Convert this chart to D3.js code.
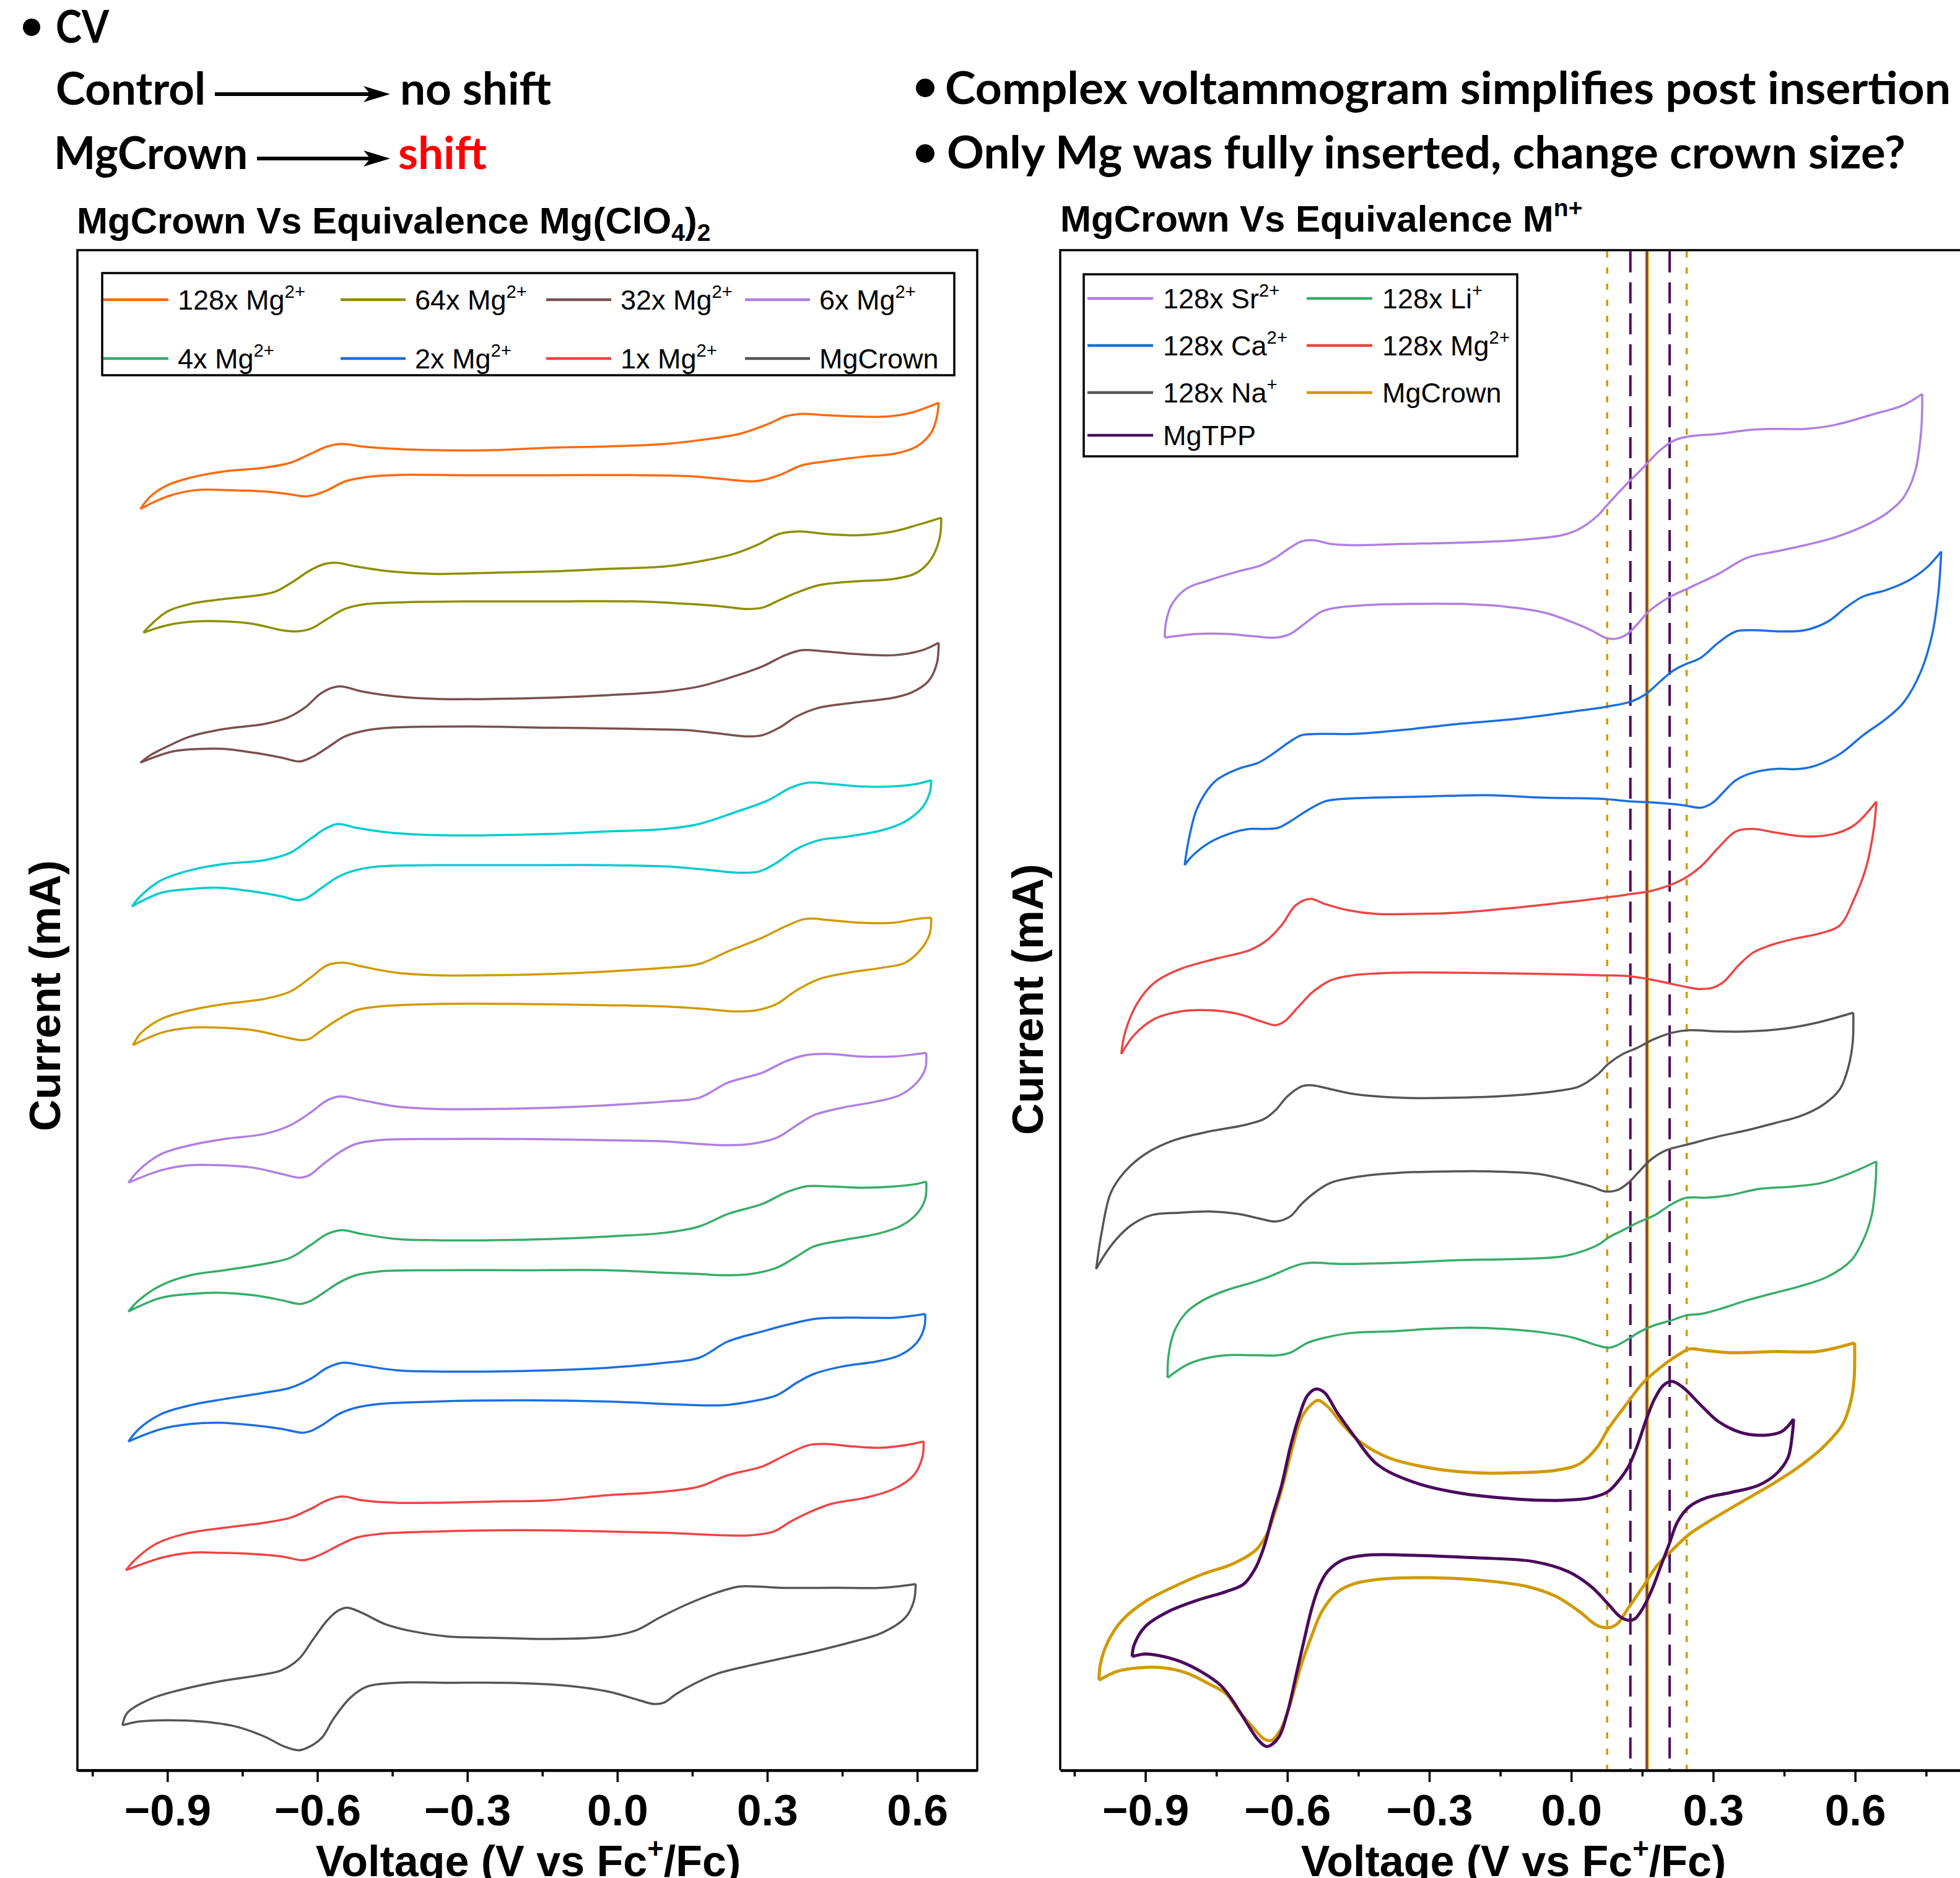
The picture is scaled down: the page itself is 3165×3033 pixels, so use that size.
<!DOCTYPE html>
<html><head><meta charset="utf-8">
<script src="https://cdn.jsdelivr.net/npm/d3@7"></script>
<style>body{margin:0;background:#fff}svg{display:block}</style>
</head><body>
<svg id="chart" width="3165" height="3033"></svg>
<script>
// ---------------- DATA (Voltage in V vs Fc+/Fc, current in arbitrary offset mA) ----------------
// Left panel: MgCrown vs equivalents of Mg(ClO4)2 (forward = upper branch, reverse = lower branch)
const L128_fwd = [[-0.954,10.09],[-0.934,10.19],[-0.900,10.28],[-0.854,10.34],[-0.786,10.39],[-0.706,10.42],[-0.654,10.46],[-0.614,10.53],[-0.580,10.59],[-0.551,10.61],[-0.511,10.59],[-0.442,10.57],[-0.362,10.56],[-0.248,10.56],[-0.133,10.58],[-0.019,10.59],[0.096,10.61],[0.164,10.64],[0.244,10.69],[0.302,10.77],[0.336,10.83],[0.370,10.85],[0.416,10.84],[0.473,10.83],[0.542,10.83],[0.588,10.86],[0.643,10.94]];
const L128_rev = [[0.643,10.94],[0.639,10.82],[0.628,10.70],[0.599,10.59],[0.553,10.53],[0.496,10.51],[0.416,10.47],[0.370,10.44],[0.324,10.36],[0.290,10.32],[0.267,10.31],[0.233,10.32],[0.153,10.35],[0.038,10.36],[-0.133,10.36],[-0.305,10.36],[-0.454,10.36],[-0.511,10.34],[-0.545,10.31],[-0.580,10.24],[-0.608,10.20],[-0.625,10.19],[-0.660,10.21],[-0.706,10.23],[-0.774,10.24],[-0.843,10.24],[-0.900,10.19],[-0.954,10.09]];
const L64_fwd = [[-0.948,9.10],[-0.934,9.16],[-0.900,9.27],[-0.854,9.33],[-0.786,9.37],[-0.717,9.40],[-0.683,9.43],[-0.648,9.51],[-0.614,9.60],[-0.585,9.65],[-0.563,9.66],[-0.523,9.63],[-0.454,9.59],[-0.362,9.57],[-0.248,9.58],[-0.133,9.59],[-0.019,9.61],[0.096,9.63],[0.164,9.67],[0.233,9.73],[0.279,9.80],[0.324,9.89],[0.364,9.91],[0.416,9.89],[0.485,9.88],[0.553,9.91],[0.599,9.96],[0.648,10.02]];
const L64_rev = [[0.648,10.02],[0.645,9.86],[0.628,9.69],[0.599,9.58],[0.553,9.53],[0.473,9.51],[0.404,9.48],[0.359,9.42],[0.324,9.36],[0.290,9.30],[0.256,9.29],[0.210,9.31],[0.141,9.33],[0.038,9.35],[-0.133,9.35],[-0.305,9.35],[-0.454,9.34],[-0.500,9.33],[-0.545,9.29],[-0.580,9.21],[-0.614,9.13],[-0.643,9.11],[-0.671,9.12],[-0.728,9.17],[-0.786,9.19],[-0.843,9.19],[-0.900,9.16],[-0.948,9.10]];
const L32_fwd = [[-0.954,8.06],[-0.934,8.12],[-0.900,8.19],[-0.854,8.27],[-0.786,8.33],[-0.706,8.37],[-0.660,8.42],[-0.625,8.50],[-0.591,8.62],[-0.557,8.67],[-0.511,8.63],[-0.442,8.59],[-0.362,8.57],[-0.248,8.57],[-0.133,8.58],[-0.019,8.60],[0.096,8.63],[0.164,8.67],[0.233,8.75],[0.290,8.83],[0.336,8.92],[0.370,8.96],[0.416,8.95],[0.473,8.93],[0.553,8.92],[0.610,8.96],[0.643,9.02]];
const L32_rev = [[0.643,9.02],[0.639,8.85],[0.622,8.71],[0.588,8.62],[0.553,8.58],[0.473,8.54],[0.404,8.50],[0.359,8.43],[0.324,8.34],[0.290,8.28],[0.261,8.27],[0.210,8.29],[0.141,8.32],[0.038,8.33],[-0.133,8.34],[-0.305,8.35],[-0.454,8.34],[-0.500,8.32],[-0.545,8.27],[-0.580,8.18],[-0.608,8.11],[-0.635,8.07],[-0.671,8.10],[-0.728,8.14],[-0.786,8.17],[-0.831,8.17],[-0.889,8.15],[-0.954,8.06]];
const L16_fwd = [[-0.971,6.91],[-0.952,7.00],[-0.912,7.12],[-0.854,7.20],[-0.786,7.25],[-0.706,7.28],[-0.654,7.34],[-0.614,7.45],[-0.585,7.53],[-0.559,7.57],[-0.523,7.54],[-0.454,7.50],[-0.362,7.48],[-0.248,7.48],[-0.133,7.49],[-0.019,7.51],[0.096,7.53],[0.164,7.57],[0.233,7.66],[0.302,7.76],[0.347,7.86],[0.382,7.90],[0.427,7.89],[0.485,7.87],[0.553,7.87],[0.599,7.89],[0.628,7.92]];
const L16_rev = [[0.628,7.92],[0.625,7.82],[0.610,7.70],[0.576,7.59],[0.530,7.52],[0.462,7.47],[0.404,7.44],[0.359,7.37],[0.319,7.26],[0.284,7.19],[0.244,7.18],[0.187,7.20],[0.096,7.23],[-0.019,7.24],[-0.191,7.24],[-0.362,7.24],[-0.477,7.23],[-0.523,7.20],[-0.557,7.15],[-0.591,7.06],[-0.620,6.98],[-0.639,6.96],[-0.671,6.99],[-0.728,7.03],[-0.797,7.06],[-0.854,7.05],[-0.912,7.02],[-0.971,6.91]];
const L8_fwd = [[-0.969,5.80],[-0.952,5.90],[-0.912,6.01],[-0.854,6.08],[-0.786,6.13],[-0.706,6.17],[-0.654,6.23],[-0.614,6.34],[-0.580,6.44],[-0.548,6.46],[-0.511,6.43],[-0.442,6.38],[-0.362,6.36],[-0.248,6.36],[-0.133,6.37],[-0.019,6.39],[0.096,6.42],[0.164,6.45],[0.221,6.55],[0.290,6.66],[0.336,6.75],[0.376,6.81],[0.427,6.80],[0.485,6.78],[0.553,6.78],[0.599,6.81],[0.628,6.82]];
const L8_rev = [[0.628,6.82],[0.625,6.69],[0.610,6.58],[0.576,6.46],[0.530,6.42],[0.462,6.38],[0.404,6.33],[0.359,6.24],[0.319,6.13],[0.279,6.08],[0.233,6.07],[0.176,6.09],[0.096,6.11],[-0.019,6.12],[-0.191,6.13],[-0.362,6.13],[-0.477,6.11],[-0.523,6.08],[-0.557,6.01],[-0.591,5.92],[-0.616,5.85],[-0.631,5.84],[-0.671,5.87],[-0.728,5.92],[-0.797,5.94],[-0.854,5.94],[-0.912,5.90],[-0.969,5.80]];
const L6_fwd = [[-0.978,4.70],[-0.957,4.80],[-0.912,4.93],[-0.854,5.00],[-0.786,5.05],[-0.706,5.09],[-0.654,5.16],[-0.614,5.26],[-0.580,5.36],[-0.554,5.39],[-0.511,5.36],[-0.442,5.31],[-0.362,5.29],[-0.248,5.29],[-0.133,5.30],[-0.019,5.32],[0.096,5.35],[0.164,5.38],[0.221,5.50],[0.290,5.58],[0.336,5.67],[0.376,5.72],[0.427,5.73],[0.485,5.71],[0.553,5.71],[0.599,5.73],[0.618,5.74]];
const L6_rev = [[0.618,5.74],[0.616,5.61],[0.599,5.50],[0.565,5.40],[0.519,5.35],[0.450,5.30],[0.393,5.24],[0.359,5.16],[0.319,5.06],[0.267,5.01],[0.221,5.00],[0.164,5.01],[0.096,5.03],[-0.019,5.04],[-0.191,5.05],[-0.362,5.05],[-0.477,5.04],[-0.523,5.01],[-0.557,4.94],[-0.591,4.84],[-0.616,4.76],[-0.635,4.74],[-0.671,4.77],[-0.728,4.82],[-0.797,4.84],[-0.854,4.84],[-0.912,4.80],[-0.978,4.70]];
const L4_fwd = [[-0.978,3.67],[-0.957,3.76],[-0.912,3.88],[-0.854,3.96],[-0.786,4.00],[-0.706,4.05],[-0.654,4.10],[-0.614,4.20],[-0.580,4.29],[-0.551,4.32],[-0.511,4.29],[-0.442,4.25],[-0.362,4.24],[-0.248,4.24],[-0.133,4.25],[-0.019,4.27],[0.096,4.30],[0.164,4.35],[0.221,4.45],[0.290,4.53],[0.336,4.62],[0.376,4.67],[0.427,4.67],[0.485,4.66],[0.553,4.67],[0.599,4.69],[0.618,4.71]];
const L4_rev = [[0.618,4.71],[0.616,4.57],[0.599,4.45],[0.565,4.35],[0.519,4.29],[0.450,4.24],[0.393,4.19],[0.359,4.11],[0.319,4.02],[0.267,3.97],[0.210,3.96],[0.164,3.97],[0.096,3.98],[-0.019,4.00],[-0.191,4.00],[-0.362,4.00],[-0.477,3.99],[-0.523,3.96],[-0.557,3.90],[-0.591,3.81],[-0.616,3.75],[-0.635,3.73],[-0.671,3.76],[-0.728,3.80],[-0.797,3.82],[-0.854,3.81],[-0.912,3.78],[-0.978,3.67]];
const L2_fwd = [[-0.978,2.63],[-0.957,2.73],[-0.912,2.85],[-0.854,2.92],[-0.786,2.97],[-0.706,3.02],[-0.654,3.06],[-0.614,3.13],[-0.580,3.22],[-0.548,3.26],[-0.511,3.24],[-0.442,3.20],[-0.362,3.19],[-0.248,3.19],[-0.133,3.20],[-0.019,3.22],[0.096,3.26],[0.164,3.30],[0.221,3.43],[0.290,3.51],[0.336,3.56],[0.393,3.61],[0.439,3.62],[0.496,3.62],[0.553,3.62],[0.599,3.64],[0.616,3.65]];
const L2_rev = [[0.616,3.65],[0.614,3.54],[0.599,3.42],[0.565,3.32],[0.519,3.27],[0.450,3.23],[0.393,3.17],[0.359,3.10],[0.319,3.00],[0.267,2.95],[0.210,2.92],[0.164,2.92],[0.096,2.93],[-0.019,2.95],[-0.191,2.96],[-0.362,2.95],[-0.477,2.93],[-0.523,2.90],[-0.557,2.85],[-0.591,2.76],[-0.616,2.71],[-0.631,2.70],[-0.671,2.73],[-0.728,2.76],[-0.797,2.78],[-0.854,2.77],[-0.912,2.73],[-0.978,2.63]];
const L1_fwd = [[-0.983,1.60],[-0.963,1.69],[-0.923,1.81],[-0.866,1.89],[-0.786,1.94],[-0.706,1.98],[-0.654,2.02],[-0.614,2.09],[-0.580,2.16],[-0.551,2.19],[-0.511,2.16],[-0.442,2.14],[-0.362,2.14],[-0.248,2.15],[-0.133,2.16],[-0.019,2.20],[0.096,2.23],[0.164,2.27],[0.221,2.36],[0.290,2.43],[0.336,2.52],[0.382,2.60],[0.416,2.61],[0.473,2.59],[0.530,2.58],[0.576,2.60],[0.613,2.63]];
const L1_rev = [[0.613,2.63],[0.610,2.50],[0.593,2.36],[0.553,2.25],[0.496,2.18],[0.427,2.13],[0.382,2.06],[0.347,1.99],[0.313,1.91],[0.267,1.88],[0.210,1.88],[0.153,1.89],[0.096,1.90],[-0.019,1.91],[-0.191,1.92],[-0.362,1.91],[-0.477,1.89],[-0.523,1.86],[-0.557,1.80],[-0.591,1.73],[-0.616,1.69],[-0.631,1.68],[-0.671,1.71],[-0.728,1.73],[-0.797,1.74],[-0.854,1.74],[-0.912,1.70],[-0.983,1.60]];
const Lcrown_fwd = [[-0.990,0.36],[-0.980,0.46],[-0.934,0.57],[-0.877,0.64],[-0.797,0.71],[-0.717,0.76],[-0.671,0.80],[-0.637,0.89],[-0.608,1.05],[-0.580,1.20],[-0.557,1.28],[-0.540,1.30],[-0.511,1.26],[-0.465,1.17],[-0.408,1.11],[-0.339,1.07],[-0.248,1.06],[-0.133,1.05],[-0.019,1.07],[0.038,1.12],[0.084,1.22],[0.141,1.33],[0.198,1.42],[0.244,1.47],[0.279,1.47],[0.324,1.46],[0.439,1.46],[0.530,1.46],[0.597,1.49]];
const Lcrown_rev = [[0.597,1.49],[0.593,1.35],[0.576,1.22],[0.530,1.10],[0.473,1.03],[0.404,0.96],[0.324,0.89],[0.256,0.83],[0.198,0.77],[0.153,0.69],[0.118,0.61],[0.093,0.54],[0.073,0.53],[0.044,0.56],[-0.019,0.63],[-0.110,0.68],[-0.225,0.70],[-0.339,0.70],[-0.442,0.70],[-0.500,0.67],[-0.534,0.58],[-0.568,0.41],[-0.591,0.26],[-0.620,0.18],[-0.637,0.16],[-0.666,0.19],[-0.706,0.27],[-0.763,0.35],[-0.831,0.39],[-0.900,0.40],[-0.957,0.39],[-0.990,0.36]];

// Right panel: MgCrown vs 128 equivalents of M(n+)
const Rsr_fwd = [[-0.859,9.06],[-0.857,9.17],[-0.845,9.32],[-0.814,9.45],[-0.765,9.52],[-0.704,9.59],[-0.655,9.64],[-0.625,9.70],[-0.594,9.78],[-0.570,9.83],[-0.545,9.84],[-0.508,9.81],[-0.460,9.80],[-0.362,9.81],[-0.240,9.82],[-0.117,9.84],[-0.019,9.88],[0.017,9.93],[0.054,10.03],[0.078,10.13],[0.115,10.28],[0.152,10.42],[0.188,10.56],[0.219,10.64],[0.250,10.67],[0.311,10.69],[0.372,10.72],[0.421,10.73],[0.494,10.73],[0.555,10.76],[0.641,10.85],[0.702,10.92],[0.742,11.01]];
const Rsr_rev = [[0.742,11.01],[0.739,10.69],[0.726,10.38],[0.702,10.18],[0.665,10.05],[0.617,9.95],[0.555,9.86],[0.494,9.80],[0.433,9.75],[0.372,9.70],[0.311,9.57],[0.250,9.46],[0.201,9.37],[0.164,9.27],[0.140,9.17],[0.115,9.08],[0.091,9.05],[0.072,9.06],[0.042,9.12],[0.005,9.18],[-0.056,9.26],[-0.142,9.31],[-0.240,9.33],[-0.337,9.33],[-0.435,9.32],[-0.496,9.30],[-0.527,9.27],[-0.557,9.19],[-0.594,9.09],[-0.625,9.06],[-0.667,9.07],[-0.729,9.09],[-0.790,9.09],[-0.859,9.06]];
const Rca_fwd = [[-0.817,7.24],[-0.808,7.45],[-0.790,7.70],[-0.753,7.91],[-0.704,8.01],[-0.661,8.06],[-0.631,8.13],[-0.594,8.23],[-0.570,8.28],[-0.533,8.29],[-0.460,8.29],[-0.362,8.32],[-0.240,8.37],[-0.117,8.41],[0.005,8.47],[0.078,8.51],[0.127,8.55],[0.158,8.61],[0.188,8.71],[0.213,8.79],[0.237,8.84],[0.274,8.90],[0.311,9.02],[0.348,9.11],[0.384,9.12],[0.445,9.11],[0.494,9.12],[0.543,9.19],[0.580,9.30],[0.617,9.39],[0.665,9.44],[0.714,9.52],[0.751,9.62],[0.782,9.75]];
const Rca_rev = [[0.782,9.75],[0.776,9.42],[0.763,9.09],[0.739,8.79],[0.702,8.54],[0.665,8.41],[0.617,8.28],[0.568,8.13],[0.519,8.04],[0.482,8.01],[0.433,8.01],[0.384,7.98],[0.348,7.92],[0.323,7.83],[0.299,7.74],[0.274,7.70],[0.237,7.72],[0.176,7.74],[0.127,7.75],[0.066,7.77],[-0.056,7.78],[-0.178,7.80],[-0.301,7.79],[-0.423,7.78],[-0.484,7.77],[-0.521,7.75],[-0.557,7.68],[-0.594,7.59],[-0.619,7.54],[-0.643,7.53],[-0.680,7.53],[-0.716,7.50],[-0.765,7.42],[-0.802,7.31],[-0.817,7.24]];
const Rmg_fwd = [[-0.951,5.73],[-0.943,5.90],[-0.918,6.13],[-0.881,6.30],[-0.826,6.41],[-0.753,6.49],[-0.680,6.56],[-0.643,6.64],[-0.612,6.76],[-0.582,6.92],[-0.551,6.97],[-0.521,6.93],[-0.472,6.88],[-0.411,6.85],[-0.337,6.85],[-0.240,6.86],[-0.117,6.90],[0.005,6.95],[0.091,6.99],[0.127,7.01],[0.164,7.03],[0.201,7.07],[0.237,7.13],[0.274,7.23],[0.311,7.38],[0.348,7.51],[0.384,7.53],[0.433,7.50],[0.494,7.47],[0.555,7.49],[0.598,7.56],[0.645,7.75]];
const Rmg_rev = [[0.645,7.75],[0.639,7.52],[0.623,7.22],[0.598,6.97],[0.568,6.76],[0.531,6.70],[0.470,6.65],[0.421,6.60],[0.384,6.54],[0.354,6.44],[0.323,6.31],[0.299,6.26],[0.268,6.25],[0.237,6.27],[0.188,6.31],[0.127,6.35],[0.054,6.36],[-0.056,6.37],[-0.240,6.38],[-0.362,6.38],[-0.460,6.36],[-0.508,6.32],[-0.545,6.23],[-0.576,6.11],[-0.606,5.99],[-0.625,5.96],[-0.655,5.99],[-0.704,6.05],[-0.765,6.08],[-0.826,6.07],[-0.881,6.01],[-0.924,5.88],[-0.951,5.73]];
const Rna_fwd = [[-1.004,4.01],[-0.992,4.31],[-0.973,4.62],[-0.943,4.79],[-0.900,4.93],[-0.839,5.04],[-0.765,5.11],[-0.692,5.16],[-0.649,5.21],[-0.625,5.28],[-0.600,5.39],[-0.570,5.47],[-0.548,5.48],[-0.521,5.46],[-0.460,5.41],[-0.362,5.38],[-0.240,5.38],[-0.117,5.40],[-0.019,5.44],[0.017,5.47],[0.054,5.56],[0.078,5.65],[0.109,5.73],[0.140,5.78],[0.176,5.85],[0.213,5.90],[0.250,5.92],[0.311,5.91],[0.372,5.91],[0.445,5.93],[0.519,5.98],[0.596,6.06]];
const Rna_rev = [[0.596,6.06],[0.595,5.83],[0.586,5.63],[0.568,5.45],[0.531,5.32],[0.482,5.23],[0.433,5.18],[0.372,5.12],[0.311,5.07],[0.250,5.01],[0.201,4.96],[0.170,4.89],[0.146,4.80],[0.121,4.70],[0.097,4.64],[0.072,4.63],[0.042,4.67],[-0.007,4.72],[-0.068,4.77],[-0.166,4.79],[-0.264,4.79],[-0.362,4.78],[-0.447,4.75],[-0.508,4.70],[-0.539,4.63],[-0.570,4.53],[-0.594,4.43],[-0.625,4.39],[-0.655,4.41],[-0.704,4.45],[-0.765,4.47],[-0.826,4.46],[-0.888,4.44],[-0.930,4.36],[-0.961,4.25],[-0.985,4.13],[-1.004,4.01]];
const Rli_fwd = [[-0.853,3.14],[-0.851,3.32],[-0.839,3.51],[-0.814,3.66],[-0.778,3.76],[-0.729,3.84],[-0.667,3.91],[-0.631,3.96],[-0.594,4.02],[-0.570,4.05],[-0.545,4.06],[-0.484,4.05],[-0.362,4.06],[-0.240,4.08],[-0.117,4.09],[-0.019,4.11],[0.030,4.16],[0.060,4.21],[0.078,4.26],[0.109,4.32],[0.140,4.38],[0.176,4.44],[0.213,4.53],[0.244,4.58],[0.286,4.58],[0.335,4.60],[0.396,4.65],[0.470,4.67],[0.531,4.70],[0.592,4.78],[0.645,4.87]];
const Rli_rev = [[0.645,4.87],[0.643,4.69],[0.635,4.44],[0.617,4.24],[0.592,4.08],[0.543,3.95],[0.482,3.87],[0.421,3.81],[0.372,3.76],[0.323,3.70],[0.274,3.65],[0.244,3.64],[0.213,3.60],[0.176,3.56],[0.146,3.51],[0.121,3.45],[0.097,3.40],[0.078,3.38],[0.054,3.40],[0.005,3.46],[-0.056,3.50],[-0.142,3.53],[-0.215,3.54],[-0.301,3.53],[-0.386,3.51],[-0.460,3.50],[-0.521,3.46],[-0.557,3.42],[-0.594,3.34],[-0.619,3.32],[-0.667,3.32],[-0.729,3.32],[-0.778,3.29],[-0.814,3.24],[-0.853,3.14]];
const Rcrown_fwd = [[-0.998,0.72],[-0.995,0.85],[-0.979,1.03],[-0.949,1.20],[-0.900,1.35],[-0.839,1.47],[-0.778,1.57],[-0.716,1.65],[-0.667,1.76],[-0.643,1.89],[-0.625,2.08],[-0.606,2.33],[-0.588,2.60],[-0.570,2.82],[-0.551,2.92],[-0.535,2.96],[-0.515,2.91],[-0.484,2.77],[-0.447,2.63],[-0.386,2.50],[-0.301,2.42],[-0.203,2.38],[-0.117,2.38],[-0.032,2.40],[0.017,2.45],[0.054,2.58],[0.078,2.73],[0.115,2.92],[0.152,3.10],[0.188,3.22],[0.225,3.32],[0.250,3.37],[0.280,3.36],[0.335,3.34],[0.433,3.35],[0.519,3.35],[0.599,3.42]];
const Rcrown_rev = [[0.599,3.42],[0.598,3.14],[0.592,2.97],[0.574,2.77],[0.531,2.58],[0.482,2.43],[0.421,2.28],[0.348,2.12],[0.299,2.01],[0.250,1.89],[0.213,1.76],[0.182,1.64],[0.152,1.47],[0.121,1.30],[0.097,1.17],[0.078,1.14],[0.054,1.16],[0.017,1.27],[-0.032,1.39],[-0.093,1.47],[-0.191,1.52],[-0.301,1.54],[-0.398,1.53],[-0.460,1.49],[-0.496,1.42],[-0.527,1.27],[-0.551,1.05],[-0.570,0.85],[-0.594,0.53],[-0.612,0.34],[-0.633,0.24],[-0.649,0.25],[-0.674,0.35],[-0.704,0.48],[-0.729,0.61],[-0.765,0.69],[-0.814,0.78],[-0.863,0.82],[-0.912,0.82],[-0.961,0.79],[-0.998,0.72]];
const Rtpp_fwd = [[-0.928,0.91],[-0.924,1.00],[-0.900,1.15],[-0.851,1.27],[-0.790,1.36],[-0.729,1.43],[-0.692,1.49],[-0.667,1.62],[-0.649,1.79],[-0.631,2.04],[-0.612,2.28],[-0.594,2.58],[-0.576,2.82],[-0.557,3.00],[-0.539,3.05],[-0.521,3.02],[-0.496,2.87],[-0.460,2.68],[-0.411,2.45],[-0.337,2.31],[-0.240,2.22],[-0.117,2.17],[-0.019,2.16],[0.042,2.18],[0.078,2.23],[0.103,2.33],[0.121,2.43],[0.140,2.60],[0.158,2.80],[0.176,2.97],[0.195,3.08],[0.213,3.11],[0.237,3.06],[0.274,2.92],[0.311,2.79],[0.360,2.70],[0.409,2.68],[0.445,2.71],[0.470,2.81]];
const Rtpp_rev = [[0.470,2.81],[0.467,2.68],[0.458,2.50],[0.433,2.37],[0.396,2.28],[0.335,2.22],[0.286,2.18],[0.250,2.11],[0.225,1.99],[0.207,1.81],[0.188,1.62],[0.170,1.44],[0.152,1.30],[0.134,1.21],[0.121,1.20],[0.103,1.23],[0.078,1.33],[0.042,1.47],[-0.007,1.59],[-0.080,1.67],[-0.203,1.70],[-0.337,1.72],[-0.435,1.72],[-0.484,1.68],[-0.515,1.59],[-0.533,1.47],[-0.548,1.30],[-0.564,1.05],[-0.582,0.75],[-0.600,0.46],[-0.619,0.26],[-0.643,0.19],[-0.661,0.24],[-0.686,0.38],[-0.716,0.56],[-0.741,0.68],[-0.778,0.78],[-0.826,0.87],[-0.875,0.92],[-0.900,0.93],[-0.928,0.91]];

// Half-wave potential markers (V): MgCrown dotted peaks, MgTPP dashed peaks, solid E1/2
const crownPeaksV = [0.076, 0.244];
const tppPeaksV = [0.125, 0.208];
const halfWaveV = [0.160];

// Axis ticks
const majorTicks = [-0.9, -0.6, -0.3, 0.0, 0.3, 0.6];
const minorTicksL = [-1.05, -0.75, -0.45, -0.15, 0.15, 0.45];
const minorTicksR = [-1.05, -0.75, -0.45, -0.15, 0.15, 0.45, 0.75];

// Series
const leftSeries = [
  {name:"128x Mg", sup:"2+", fwd:L128_fwd, rev:L128_rev},
  {name:"64x Mg", sup:"2+", fwd:L64_fwd, rev:L64_rev},
  {name:"32x Mg", sup:"2+", fwd:L32_fwd, rev:L32_rev},
  {name:"16x Mg", sup:"2+", fwd:L16_fwd, rev:L16_rev, noLegend:true},
  {name:"8x Mg", sup:"2+", fwd:L8_fwd, rev:L8_rev, noLegend:true},
  {name:"6x Mg", sup:"2+", fwd:L6_fwd, rev:L6_rev},
  {name:"4x Mg", sup:"2+", fwd:L4_fwd, rev:L4_rev},
  {name:"2x Mg", sup:"2+", fwd:L2_fwd, rev:L2_rev},
  {name:"1x Mg", sup:"2+", fwd:L1_fwd, rev:L1_rev},
  {name:"MgCrown", sup:"", fwd:Lcrown_fwd, rev:Lcrown_rev}
];
const leftColors = ["#FF6A0E","#8E8E00","#7A5050","#00CCCC","#D09A00","#B07FE2","#38AC6A","#1B6FE0","#F04444","#555555"];

const rightSeries = [
  {name:"128x Sr", sup:"2+", fwd:Rsr_fwd, rev:Rsr_rev},
  {name:"128x Ca", sup:"2+", fwd:Rca_fwd, rev:Rca_rev},
  {name:"128x Na", sup:"+", fwd:Rna_fwd, rev:Rna_rev},
  {name:"MgTPP", sup:"", fwd:Rtpp_fwd, rev:Rtpp_rev},
  {name:"128x Li", sup:"+", fwd:Rli_fwd, rev:Rli_rev},
  {name:"128x Mg", sup:"2+", fwd:Rmg_fwd, rev:Rmg_rev},
  {name:"MgCrown", sup:"", fwd:Rcrown_fwd, rev:Rcrown_rev}
];
const rightColors = ["#B07FE2","#1B6FE0","#555555","#4B0A5C","#38AC6A","#F04444","#D09A00"];

// ---------------- DRAWING ----------------
const svg = d3.select("#chart");
const ARIAL = "'Liberation Sans', Arial, sans-serif";
const CAL = "Lato, 'Open Sans', sans-serif";

const yTop = 404, yBot = 2859;
const y = d3.scaleLinear().domain([0, 12.16]).range([yBot, yTop]);
const xL = d3.scaleLinear().domain([-1.08, 0.72]).range([125, 1578]);
const xR = d3.scaleLinear().domain([-1.08, 0.836]).range([1712, 3176]);

function rich(t, parts, size) {
  let off = 0;
  parts.forEach(p => {
    if (!p.t) return;
    const ts = t.append("tspan").text(p.t);
    const target = p.sup ? -0.42 * size : p.sub ? 0.2 * size : 0;
    if (target !== off) { ts.attr("dy", target - off); off = target; }
    if (p.sup || p.sub) ts.attr("font-size", 0.65 * size);
  });
}

// ---- header text ----
svg.append("circle").attr("cx", 51).attr("cy", 44).attr("r", 14).attr("fill", "#000");
const hdr = [
  {t:"CV", x:90, y:69, w:86, c:"#000"},
  {t:"Control", x:90, y:169, w:242, c:"#000"},
  {t:"no shift", x:646, y:169, w:244, c:"#000"},
  {t:"MgCrown", x:87, y:273, w:313, c:"#000"},
  {t:"shift", x:643, y:273, w:143, c:"#FF0000"},
  {t:"Complex voltammogram simplifies post insertion", x:1526, y:168, w:1624, c:"#000"},
  {t:"Only Mg was fully inserted, change crown size?", x:1529, y:272, w:1548, c:"#000"}
];
hdr.forEach(h => svg.append("text").attr("x", h.x).attr("y", h.y).text(h.t)
  .attr("font-family", CAL).attr("font-weight", 700).attr("font-size", 72)
  .attr("fill", h.c).attr("textLength", h.w).attr("lengthAdjust", "spacingAndGlyphs"));
[142, 248].forEach(cy => svg.append("circle").attr("cx", 1494).attr("cy", cy).attr("r", 15).attr("fill", "#000"));
// arrows
[[347, 152], [415, 256]].forEach(([x0, yy]) => {
  svg.append("line").attr("x1", x0).attr("x2", 605).attr("y1", yy).attr("y2", yy)
    .attr("stroke", "#000").attr("stroke-width", 6);
  svg.append("path").attr("d", `M630,${yy} L587,${yy-13} L598,${yy} L587,${yy+13} Z`).attr("fill", "#000");
});

// ---- subtitles ----
const st1 = svg.append("text").attr("x", 124).attr("y", 377).attr("font-family", ARIAL)
  .attr("font-weight", 700).attr("font-size", 60);
rich(st1, [{t:"MgCrown Vs Equivalence Mg(ClO"}, {t:"4", sub:true}, {t:")"}, {t:"2", sub:true}], 60);
const st2 = svg.append("text").attr("x", 1712).attr("y", 374).attr("font-family", ARIAL)
  .attr("font-weight", 700).attr("font-size", 60);
rich(st2, [{t:"MgCrown Vs Equivalence M"}, {t:"n+", sup:true}], 60);

// ---- frames ----
svg.append("rect").attr("x", 125).attr("y", yTop).attr("width", 1578 - 125).attr("height", yBot - yTop)
  .attr("fill", "none").attr("stroke", "#000").attr("stroke-width", 3.5);
svg.append("path").attr("d", `M1712,${yBot} V${yTop} H3170`).attr("fill", "none")
  .attr("stroke", "#000").attr("stroke-width", 3.5);

// ---- axes ----
function drawAxis(x, minor) {
  const gMaj = svg.append("g").attr("transform", `translate(0,${yBot})`)
    .call(d3.axisBottom(x).tickValues(majorTicks).tickFormat(d3.format(".1f"))
      .tickSize(19).tickSizeOuter(0).tickPadding(20));
  gMaj.select(".domain").attr("stroke-width", 4.5);
  gMaj.selectAll(".tick line").attr("stroke-width", 3.5);
  gMaj.selectAll(".tick text").attr("font-family", ARIAL).attr("font-weight", 700)
    .attr("font-size", 71).attr("fill", "#000");
  const gMin = svg.append("g").attr("transform", `translate(0,${yBot})`)
    .call(d3.axisBottom(x).tickValues(minor).tickFormat("").tickSize(10).tickSizeOuter(0));
  gMin.select(".domain").remove();
  gMin.selectAll(".tick line").attr("stroke-width", 3.5);
}
drawAxis(xL, minorTicksL);
drawAxis(xR, minorTicksR);

// axis titles
[[853], [2444]].forEach(([cx]) => {
  const t = svg.append("text").attr("x", cx).attr("y", 3030).attr("text-anchor", "middle")
    .attr("font-family", ARIAL).attr("font-weight", 700).attr("font-size", 70);
  rich(t, [{t:"Voltage (V vs Fc"}, {t:"+", sup:true}, {t:"/Fc)"}], 70);
});
[[97, 1608], [1684, 1614]].forEach(([bx, cy]) => {
  svg.append("text").attr("transform", `translate(${bx},${cy}) rotate(-90)`).attr("text-anchor", "middle")
    .attr("font-family", ARIAL).attr("font-weight", 700).attr("font-size", 71).text("Current (mA)");
});

// ---- reference lines (right) ----
crownPeaksV.forEach(v => svg.append("line").attr("x1", xR(v)).attr("x2", xR(v)).attr("y1", yTop + 2).attr("y2", yBot - 2)
  .attr("stroke", "#D09A00").attr("stroke-width", 3.5).attr("stroke-dasharray", "10,16"));
tppPeaksV.forEach(v => svg.append("line").attr("x1", xR(v)).attr("x2", xR(v)).attr("y1", yTop + 2).attr("y2", yBot - 2)
  .attr("stroke", "#4B0A5C").attr("stroke-width", 4).attr("stroke-dasharray", "34,16"));
halfWaveV.forEach(v => {
  svg.append("line").attr("x1", xR(v)).attr("x2", xR(v)).attr("y1", yTop + 2).attr("y2", yBot - 2)
    .attr("stroke", "#D09A00").attr("stroke-width", 6);
  svg.append("line").attr("x1", xR(v)).attr("x2", xR(v)).attr("y1", yTop + 2).attr("y2", yBot - 2)
    .attr("stroke", "#5A1A4A").attr("stroke-width", 2);
});

// ---- curves ----
function drawLoops(series, colors, x, widthFn) {
  series.forEach((s, i) => {
    const line = d3.line().x(d => x(d[0])).y(d => y(d[1])).curve(d3.curveCatmullRom.alpha(0.5));
    [s.fwd, s.rev].forEach(br => svg.append("path").attr("d", line(br)).attr("fill", "none")
      .attr("stroke", colors[i]).attr("stroke-width", widthFn(s)).attr("stroke-linejoin", "round"));
  });
}
drawLoops(leftSeries, leftColors, xL, () => 3.5);
const rightOrder = [0, 1, 5, 2, 4, 6, 3];
drawLoops(rightOrder.map(i => rightSeries[i]), rightOrder.map(i => rightColors[i]), xR,
  s => (s.name === "MgCrown" || s.name === "MgTPP") ? 5 : 3.5);

// ---- legends ----
function legendBox(x0, y0, x1, y1) {
  svg.append("rect").attr("x", x0).attr("y", y0).attr("width", x1 - x0).attr("height", y1 - y0)
    .attr("fill", "#fff").attr("stroke", "#000").attr("stroke-width", 3.5);
}
// left: 2 rows x 4 columns
legendBox(165, 441, 1541, 606);
const lColX = [167, 550, 882, 1203], lRowY = [484, 579];
leftSeries.map((s, i) => ({s, c: leftColors[i]})).filter(d => !d.s.noLegend).forEach((d, k) => {
  const cx = lColX[k % 4], ry = lRowY[Math.floor(k / 4)];
  svg.append("line").attr("x1", cx).attr("x2", cx + 105).attr("y1", ry).attr("y2", ry)
    .attr("stroke", d.c).attr("stroke-width", 4.5);
  const t = svg.append("text").attr("x", cx + 120).attr("y", ry + 16).attr("font-family", ARIAL).attr("font-size", 45);
  rich(t, [{t: d.s.name}, {t: d.s.sup, sup: true}], 45);
});
// right: 4 rows x 2 columns (column-major)
legendBox(1750, 443, 2450, 737);
const rColX = [1756, 2110], rRowY = [482, 558, 634, 703];
rightSeries.forEach((s, k) => {
  const cx = rColX[Math.floor(k / 4)], ry = rRowY[k % 4];
  svg.append("line").attr("x1", cx).attr("x2", cx + 106).attr("y1", ry).attr("y2", ry)
    .attr("stroke", rightColors[k]).attr("stroke-width", 4.5);
  const t = svg.append("text").attr("x", cx + 122).attr("y", ry + 16).attr("font-family", ARIAL).attr("font-size", 45);
  rich(t, [{t: s.name}, {t: s.sup, sup: true}], 45);
});
</script>
</body></html>
